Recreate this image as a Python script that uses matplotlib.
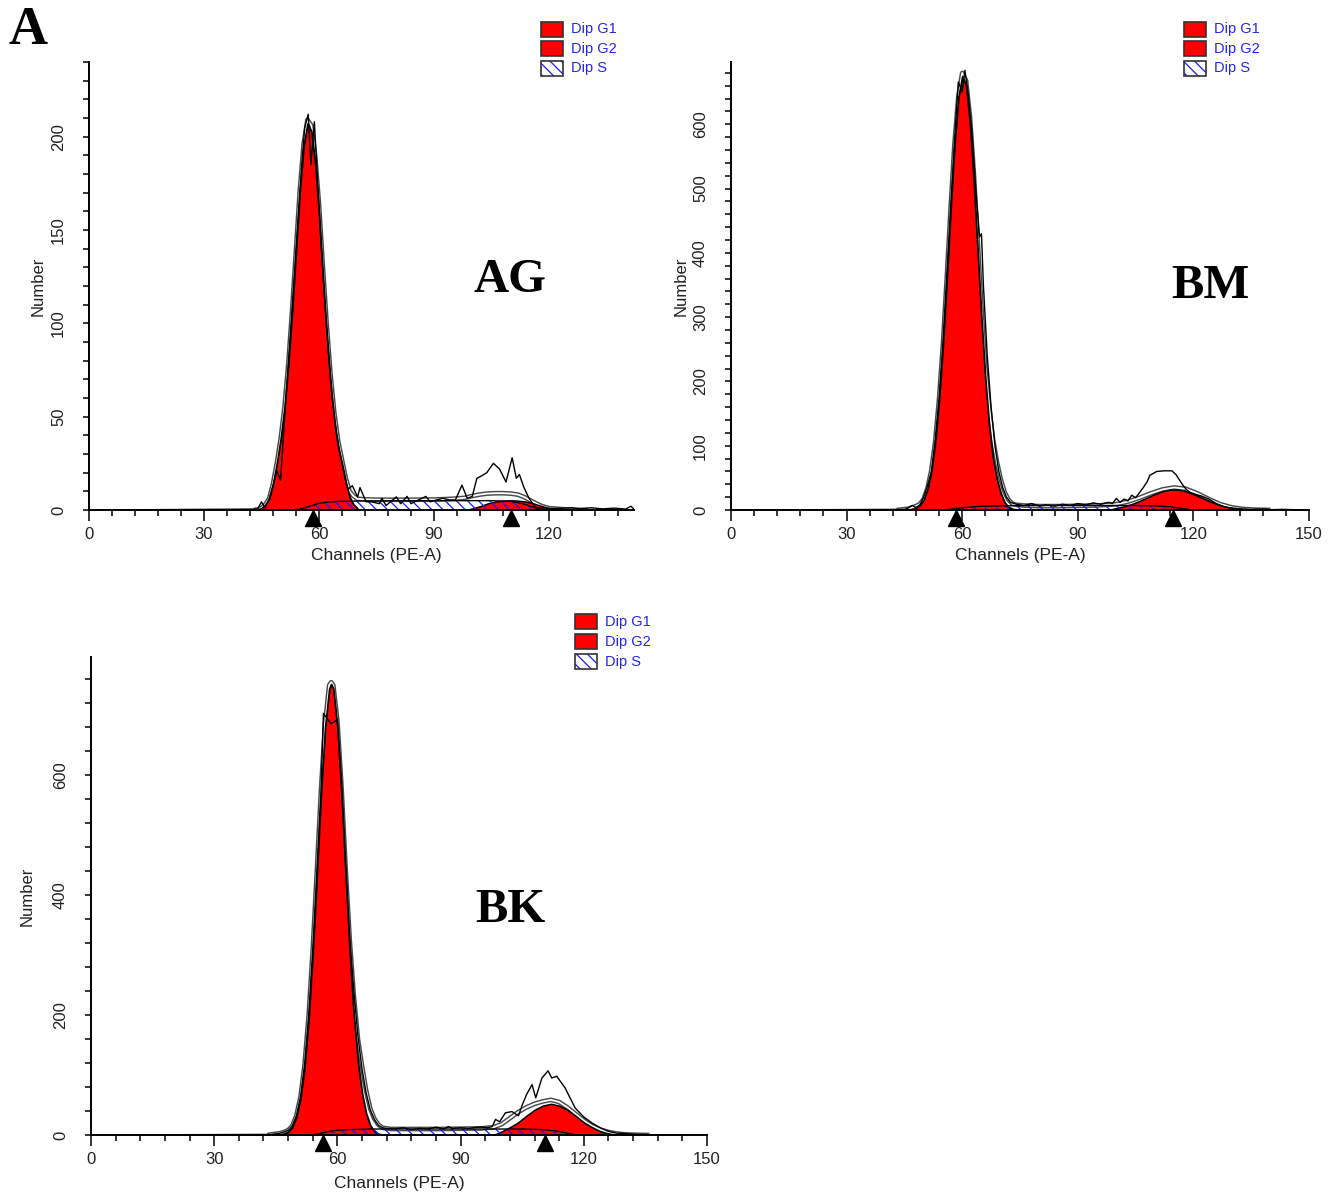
import matplotlib
matplotlib.use('Agg')
import matplotlib.pyplot as plt
from matplotlib.patches import Rectangle
from matplotlib.ticker import MultipleLocator
from matplotlib.transforms import ScaledTranslation

plt.rcParams['font.family'] = ['Liberation Sans', 'DejaVu Sans']
plt.rcParams['hatch.linewidth'] = 0.9

# ---- AG ----
ag_g1_ch = list(range(44, 71))
ag_g1 = [0.3, 1, 3, 6, 14, 25, 38, 55, 78, 107, 139, 171, 195, 207, 203,
         186, 159, 126, 95, 68, 48, 34, 25, 15, 7, 3, 1]
ag_g2_ch = list(range(98, 124, 2))
ag_g2 = [0, 0.8, 2, 3.5, 4.5, 5, 5.2, 5, 4.5, 3.5, 2.2, 1, 0]
ag_s_ch = [54, 56, 58, 60, 62, 65, 70, 80, 90, 100, 105, 110, 113, 116, 118]
ag_s = [0, 1, 2.3, 3.5, 4.2, 4.6, 4.8, 5, 5, 5, 5, 4.6, 3.5, 1.5, 0]
ag_fit_ch = [43, 44, 45, 46, 47, 48, 49, 50, 51, 52, 53, 54, 55, 56, 57, 58,
             59, 60, 61, 62, 63, 64, 65, 66, 67, 68, 69, 70, 72, 75, 80, 85, 90,
             95, 98, 100, 102, 104, 106, 108, 110, 112, 114, 116, 118, 120, 125, 130]
ag_fit = [0, 0.3, 1, 3, 6, 14, 25, 38, 55, 78, 107, 139, 171, 196, 209, 206,
          190, 164, 131, 100, 73, 52, 37, 27, 17, 10, 7.5, 6, 5.7, 5.5, 5.5, 5.5, 5.6,
          6, 6.5, 7.5, 8.3, 8.8, 9, 9, 8.8, 8.2, 6.5, 4.2, 2.2, 1, 0.2, 0]
ag_raw_ch = [0, 44, 45, 46, 47, 48, 49, 50, 50.6, 51.5, 52.5, 53.5, 54.5, 55.5,
             56.3, 57.2, 57.9, 58.8, 59.6, 60.5, 61.5, 62.5, 63.5, 64.5, 65.5, 66.5,
             67.5, 68.7, 70.1, 70.7, 72.3, 73.6, 75.8, 76.4, 77.5, 80.2, 81.3, 83,
             84, 87.9, 89, 92.3, 94, 95.6, 97.3, 98.7, 100, 101.2, 102.2, 103.8,
             105.5, 107.1, 108.8, 110.4, 111.5, 112.3, 113.5, 114.8, 116.5, 118,
             122, 126, 128, 131, 134, 137, 140, 141.4, 142.2]
ag_raw = [0, 0.5, 4.4, 1, 6, 13, 21, 16, 36, 64, 93, 124, 155, 185, 205, 212, 185,
          208, 178, 145, 112, 84, 60, 42, 30, 20, 11, 13, 7, 12, 4.4, 4.4, 3.4, 6.3,
          2.4, 7, 3.4, 7.3, 3.4, 7.3, 4.4, 6.3, 5.4, 5.4, 13.3, 6.3, 7.3, 17, 18,
          20, 25, 22, 15, 28, 17, 19, 12, 6.3, 1.4, 1, 0.8, 1.2, 0.6, 1.2, 0.6, 1,
          0.5, 2, 0.5]
ag_marks = [58.5, 110]

# ---- BM ----
bm_g1_ch = list(range(46, 75))
bm_g1 = [0.5, 1.3, 3.3, 7.7, 16, 33, 61, 106, 172, 257, 360, 469, 569, 642, 675,
         661, 602, 511, 404, 297, 204, 130, 80, 48, 26, 12, 5, 2, 0.8]
bm_g2_ch = list(range(98, 136, 2))
bm_g2 = [0, 3.2, 5.7, 9.3, 14, 19.4, 24.8, 29.2, 31.7, 31.7, 29.2, 24.8, 19.4, 14,
         9.3, 5.7, 3.2, 1.7, 0]
bm_s_ch = [55, 58, 61, 64, 70, 80, 90, 100, 105, 110, 114, 117, 120]
bm_s = [0, 2, 4, 5.5, 6.5, 7, 7, 7, 7, 6.5, 5, 2.5, 0]
bm_fit_ch = [43, 44, 46, 47, 48, 49, 50, 51, 52, 53, 54, 55, 56, 57, 58, 59, 60, 61,
             62, 63, 64, 65, 66, 67, 68, 69, 70, 71, 72, 73, 74, 76, 80, 85, 90, 95,
             100, 103, 106, 109, 112, 115, 118, 121, 124, 127, 130, 133, 136, 140]
bm_fit = [0, 0.5, 2, 4, 6, 9, 17, 34, 62, 107, 173, 258, 361, 470, 570, 643, 680,
          668, 612, 525, 420, 315, 222, 160, 110, 75, 48, 28, 16, 10, 8, 7, 6, 6,
          6.5, 7, 9, 13, 19, 26, 32, 35, 33, 26, 17, 9, 4, 1.5, 0.5, 0]
bm_raw_ch = [0, 45, 46, 47, 48, 49, 50, 51, 52, 53, 54, 55, 56, 57, 58, 59, 60,
             60.7, 61.5, 62.5, 63.5, 64.5, 65, 65.5, 66.5, 67.5, 68.5, 69.5, 70.5,
             71.5, 72.5, 74, 76, 78, 80, 82, 84, 86, 88, 90, 92, 94, 96, 98, 99, 100,
             101, 102, 103, 104, 105, 106, 107, 108, 108.7, 110.5, 112.5, 114.4,
             115.5, 117, 118, 119.1, 120, 122, 124, 126, 128, 130, 132, 135, 138,
             140, 143, 146, 150]
bm_raw = [0, 1, 3, 7, 4, 8, 20, 38, 60, 110, 175, 262, 365, 472, 575, 666, 650, 684,
          650, 590, 500, 425, 430, 350, 240, 160, 100, 60, 35, 20, 12, 9, 7, 10, 6,
          8, 6, 9, 7, 10, 8, 11, 9, 12, 10, 18, 12, 17, 14, 23, 19, 27, 35, 44, 54,
          60, 61, 61, 55, 41, 33, 27, 25, 22, 17, 10, 5, 3, 2, 1, 1.5, 0.5, 1, 0.5, 0]
bm_marks = [58.4, 114.7]

# ---- BK ----
bk_g1_ch = [46, 47, 48, 49, 50, 51, 52, 53, 54, 55, 56, 57, 58, 58.5, 59, 60, 61,
            62, 63, 64, 65, 66, 67, 68, 69, 70, 71]
bk_g1 = [0.7, 2, 5.5, 13, 30, 61, 114, 195, 305, 435, 569, 680, 744, 752, 744, 680,
         569, 435, 305, 200, 122, 70, 36, 16, 6, 2, 0.7]
bk_g2_ch = list(range(98, 130, 2))
bk_g2 = [0, 6, 13, 21, 32, 42, 49, 52, 49, 42, 32, 21, 13, 6, 2, 0]
bk_s_ch = [54, 56, 58, 60, 63, 68, 80, 90, 100, 105, 110, 113, 116, 118]
bk_s = [0, 3, 6, 8, 9, 10, 10, 10, 10, 10, 9, 7, 3, 0]
bk_fit_ch = [43, 44, 46, 47, 48, 49, 50, 51, 52, 53, 54, 55, 56, 57, 58, 58.5, 59,
             60, 61, 62, 63, 64, 65, 66, 67, 68, 69, 70, 71, 72, 73, 75, 80, 85, 90,
             95, 98, 100, 102, 104, 106, 108, 110, 112, 114, 116, 118, 120, 122, 124,
             126, 128, 130, 133, 136]
bk_fit = [0, 1, 3, 5, 8, 15, 32, 63, 117, 199, 310, 440, 574, 686, 750, 755, 750,
          690, 580, 445, 325, 232, 160, 115, 74, 44, 27, 17, 12, 11, 10, 10, 10, 10,
          10.5, 11, 13, 18, 28, 38, 46, 52, 56, 58.6, 55, 46, 35, 24, 15, 9, 5, 2.5,
          1, 0.3, 0]
bk_raw_ch = [0, 44, 45, 46, 47, 48, 49, 50, 51, 52, 53, 54, 55, 56, 56.6, 58.4, 60,
             61, 62, 63, 64, 65, 66, 67, 68, 69, 70, 71, 72, 74, 76, 78, 80, 82, 84,
             86, 87, 88, 90, 92, 94, 95.2, 96.5, 97.7, 98.5, 99.5, 100.9, 102.5,
             104.1, 105, 106.1, 107.4, 108.3, 109.8, 111.3, 112.2, 113.4, 115.4,
             117.9, 120, 122, 124, 126, 128, 130, 133, 136, 140, 145, 150]
bk_raw = [0, 1, 2, 3, 5, 8, 15, 32, 63, 117, 199, 310, 440, 574, 703, 686, 692, 590,
          450, 330, 240, 165, 110, 70, 42, 26, 16, 12, 11, 10, 12, 9, 11, 10, 13, 10,
          14, 11, 12, 11, 13, 13, 12, 14, 26, 22, 37, 39, 32, 50, 68, 84, 62, 95,
          107, 95, 98, 79, 45, 30, 20, 12, 6, 3, 2.5, 1, 0.5, 0.5, 0, 0]
bk_marks = [56.5, 110.5]

legend_labels = ['Dip G1', 'Dip G2', 'Dip S']

W, H = 1339, 1197
fig = plt.figure(figsize=(W / 100, H / 100), dpi=100)


def px_rect(left, top, right, bottom):
    return [left / W, 1 - bottom / H, (right - left) / W, (bottom - top) / H]


def add_legend(x, y, step):
    for i, label in enumerate(legend_labels):
        top = y + i * step
        box = [x / W, 1 - (top + 15) / H, 22 / W, 15 / H]
        if label == 'Dip S':
            fig.add_artist(Rectangle(box[:2], box[2], box[3], transform=fig.transFigure,
                                     facecolor='white', edgecolor='#1a1aff',
                                     hatch='\\\\\\', lw=0))
            fig.add_artist(Rectangle(box[:2], box[2], box[3], transform=fig.transFigure,
                                     fill=False, edgecolor='#333333', lw=1.2))
        else:
            fig.add_artist(Rectangle(box[:2], box[2], box[3], transform=fig.transFigure,
                                     facecolor='#ff0000', edgecolor='#333333', lw=1.2))
        fig.text((x + 30) / W, 1 - (top + 7.5) / H, label, color='#2424f0',
                 fontsize=10.5, ha='left', va='center')


def draw_panel(rect, xmax, ymax, ymajor, yminor, data, name, name_xy, ylab_x):
    g1_ch, g1, g2_ch, g2, s_ch, s, fit_ch, fit, raw_ch, raw, marks = data
    ax = fig.add_axes(rect)

    # model sum: white line with dark rims
    ax.plot(fit_ch, fit, color='#4a4a4a', lw=3.4, zorder=2, solid_joinstyle='round',
            solid_capstyle='butt')
    ax.plot(fit_ch, fit, color='white', lw=1.3, zorder=2.1, solid_capstyle='butt')

    ax.fill_between(g1_ch, 0, g1, facecolor='#ff0000', edgecolor='black', lw=1.3, zorder=3)
    ax.fill_between(g2_ch, 0, g2, facecolor='#ff0000', edgecolor='black', lw=1.1, zorder=3)
    ax.fill_between(s_ch, 0, s, facecolor='none', edgecolor='#1a1aff', hatch='\\\\\\',
                    lw=0, zorder=4)
    ax.plot(s_ch, s, color='black', lw=1.0, zorder=4.1)

    ax.plot(raw_ch, raw, color='black', lw=1.0, zorder=5)

    # G1 / G2 peak markers under the axis
    shift = ScaledTranslation(0, -7.5 / 100, fig.dpi_scale_trans)
    ax.plot(marks, [0] * len(marks), ls='none', marker='^', ms=11, color='black',
            clip_on=False, zorder=6, transform=ax.transData + shift)

    ax.set_xlim(0, xmax)
    ax.set_ylim(0, ymax)
    for side in ['top', 'right']:
        ax.spines[side].set_visible(False)
    for side in ['left', 'bottom']:
        ax.spines[side].set_linewidth(1.4)
        ax.spines[side].set_zorder(5.5)

    ax.xaxis.set_major_locator(MultipleLocator(30))
    ax.xaxis.set_minor_locator(MultipleLocator(6))
    ax.yaxis.set_major_locator(MultipleLocator(ymajor))
    ax.yaxis.set_minor_locator(MultipleLocator(yminor))
    ax.tick_params(axis='x', which='major', length=8, width=1.1, pad=4,
                   labelsize=12, labelcolor='#222222')
    ax.tick_params(axis='x', which='minor', length=4.5, width=1.1)
    ax.tick_params(axis='y', which='major', length=4.5, width=1.1, pad=12,
                   labelsize=12, labelcolor='#222222', labelrotation=90)
    ax.tick_params(axis='y', which='minor', length=4, width=1.1)
    plt.setp(ax.get_yticklabels(), va='center')

    ax.set_xlabel('Channels (PE-A)', fontsize=12.5, color='#222222')
    ax.xaxis.set_label_coords(75 / xmax, -0.085)
    ax.set_ylabel('Number', fontsize=12, color='#222222', va='center')
    ax.yaxis.set_label_coords(ylab_x, 0.5)

    ax.text(name_xy[0], name_xy[1], name, transform=ax.transAxes, ha='center',
            va='center', fontsize=35, fontweight='bold', family='Liberation Serif')
    return ax


draw_panel(px_rect(89, 62, 634, 510), 142.2, 240, 50, 10,
           (ag_g1_ch, ag_g1, ag_g2_ch, ag_g2, ag_s_ch, ag_s, ag_fit_ch, ag_fit,
            ag_raw_ch, ag_raw, ag_marks),
           'AG', (0.7725, 0.513), -0.0936)
draw_panel(px_rect(731, 62, 1309, 510), 150, 697, 100, 20,
           (bm_g1_ch, bm_g1, bm_g2_ch, bm_g2, bm_s_ch, bm_s, bm_fit_ch, bm_fit,
            bm_raw_ch, bm_raw, bm_marks),
           'BM', (0.829, 0.5), -0.0865)
draw_panel(px_rect(91, 657, 707, 1135), 150, 797, 200, 40,
           (bk_g1_ch, bk_g1, bk_g2_ch, bk_g2, bk_s_ch, bk_s, bk_fit_ch, bk_fit,
            bk_raw_ch, bk_raw, bk_marks),
           'BK', (0.680, 0.471), -0.104)

add_legend(541, 22, 19.3)
add_legend(1184, 22, 19.3)
add_legend(575, 614, 20)

fig.text(28 / W, 1 - 31 / H, 'A', ha='center', va='center', fontsize=39,
         fontweight='bold', family='Liberation Serif')

fig.savefig('out.png', dpi=100)
